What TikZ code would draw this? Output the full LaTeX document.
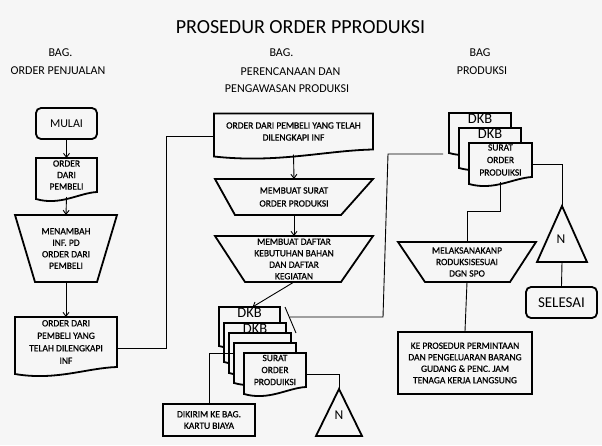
\documentclass[tikz,border=0pt]{standalone}
\usepackage{fontspec}
\setmainfont{Carlito}
\newfontfamily\semib[FakeBold=0.8]{Carlito}
\usetikzlibrary{calc,arrows.meta}
\definecolor{bg}{RGB}{246,246,246}
\newcommand{\docout}[2][]{%
  \draw[shp,#1] (#2.north west) -- (#2.north east) -- (#2.south east)
   .. controls ($(#2.south west)!0.7!(#2.south east)+(0pt,-1pt)$) and ($(#2.south west)!0.4!(#2.south east)+(0pt,-14pt)$) .. ([yshift=-7pt]#2.south west) -- cycle;}
\newcommand{\trapout}[3]{%
  \draw[shp] (#1.north west) -- (#1.north east) -- ([xshift=-#3]#1.south east) -- ([xshift=#2]#1.south west) -- cycle;}
\newcommand{\triout}[1]{%
  \draw[shp] (#1.north) -- (#1.south east) -- (#1.south west) -- cycle;}
\begin{document}
\begin{tikzpicture}[x=1pt,y=-1pt,
  shp/.style={draw=black, line width=1.8pt, line join=miter},
  frame/.style={draw=none, inner sep=0pt, outer sep=0pt},
  txt/.style={font=\semib\fontsize{9.5}{11.5}\selectfont, align=center, inner sep=0pt},
  hdr/.style={font=\fontsize{12}{14}\selectfont, inner sep=0pt},
  con/.style={draw=black, line width=0.9pt},
  arr/.style={con, -{Straight Barb[length=4pt,width=6pt]}},
  roundbox/.style={shp, rounded corners=5pt, inner sep=0pt},
  plainbox/.style={shp, inner sep=0pt, align=center, font=\semib\fontsize{9.5}{11.5}\selectfont},
  dkb/.style={font=\fontsize{14.5}{16}\selectfont, inner sep=0pt, anchor=north},
  ntext/.style={font=\fontsize{13.5}{15}\selectfont, inner sep=0pt}]
\fill[bg] (0,0) rectangle (602,445);
\useasboundingbox (0,0) rectangle (602,445);

% title and headers
\node[font=\fontsize{20}{24}\selectfont, inner sep=0pt] (title) at (300.5,27) {PROSEDUR ORDER PPRODUKSI};
\node[hdr] (h1a) at (60.5,53) {BAG.};
\node[hdr] (h1b) at (58,71) {ORDER PENJUALAN};
\node[hdr] (h2a) at (281.5,53) {BAG.};
\node[hdr] (h2b) at (290.5,72) {PERENCANAAN DAN};
\node[hdr] (h2c) at (287,89) {PENGAWASAN PRODUKSI};
\node[hdr] (h3a) at (480,53) {BAG};
\node[hdr] (h3b) at (482,71) {PRODUKSI};

% ---------- left column ----------
\node[roundbox, minimum width=61, minimum height=31, font=\fontsize{12}{14}\selectfont] (mulai) at (66.5,123.5) {MULAI};
\node[frame, txt, minimum width=61, minimum height=34] (ldoc1) at (66.5,175) {ORDER\\DARI\\PEMBELI};
\docout{ldoc1}
\node[frame, txt, minimum width=102, minimum height=67] (ltrap) at (66,248.5) {MENAMBAH\\INF. PD\\ORDER DARI\\PEMBELI};
\trapout{ltrap}{20pt}{20pt}
\node[frame, txt, font=\semib\fontsize{9.5}{12.5}\selectfont, minimum width=102, minimum height=50] (ldoc2) at (66,342) {ORDER DARI\\PEMBELI YANG\\TELAH DILENGKAPI\\INF};
\docout{ldoc2}

\draw[arr] (mulai.south) -- (ldoc1.north);
\draw[arr] ([yshift=-5pt]ldoc1.south) -- (ltrap.north);
\draw[arr] (ltrap.south) -- (ldoc2.north);

% ---------- middle column ----------
\node[frame, txt, font=\semib\fontsize{9.5}{12}\selectfont, minimum width=159, minimum height=36] (mdoc) at (293.5,131.5) {ORDER DARI PEMBELI YANG TELAH\\DILENGKAPI INF};
\docout{mdoc}
\node[frame, txt, font=\semib\fontsize{9.5}{13}\selectfont, minimum width=158, minimum height=36] (mtrap1) at (294,197) {MEMBUAT SURAT\\ORDER PRODUKSI};
\trapout{mtrap1}{20pt}{32pt}
\node[frame, txt, minimum width=158, minimum height=46] (mtrap2) at (294,259) {MEMBUAT DAFTAR\\KEBUTUHAN BAHAN\\DAN DAFTAR\\KEGIATAN};
\trapout{mtrap2}{30pt}{32pt}

\draw[arr] ([yshift=-5pt]mdoc.south) -- (mtrap1.north);
\draw[arr] (mtrap1.south) -- (mtrap2.north);

% middle stack
\node[frame, minimum width=61, minimum height=32] (mk1) at (249.5,323) {};
\docout[fill=bg]{mk1}
\node[dkb] (mk1t) at ([yshift=-1pt]mk1.north) {DKB};
\node[frame, minimum width=62, minimum height=32] (mk2) at (255,339) {};
\docout[fill=bg]{mk2}
\node[dkb] (mk2t) at ([yshift=-1pt]mk2.north) {DKB};
\node[frame, minimum width=62, minimum height=33] (mk3) at (260,349.5) {};
\docout[fill=bg]{mk3}
\node[frame, minimum width=62, minimum height=33] (mk4) at (265,359.5) {};
\docout[fill=bg]{mk4}
\node[frame, minimum width=62, minimum height=34] (mk5) at (275,370) {};
\docout[fill=bg]{mk5}
\node[txt, font=\semib\fontsize{9.5}{12}\selectfont] (mk5t) at (mk5.center) {SURAT\\ORDER\\PRODUIKSI};

\draw[arr] (mtrap2.south) -- ([xshift=3pt]mk1.north);

\node[plainbox, minimum width=92, minimum height=32] (kirim) at (209,420) {DIKIRIM KE BAG.\\KARTU BIAYA};
\draw[con] ([yshift=6pt]mk4.west) -| (kirim.north);

\node[frame, ntext, minimum width=46, minimum height=47] (ntri1) at (339,412.5) {};
\triout{ntri1}
\node[ntext] (ntri1t) at (339,415) {N};
\draw[con] ([yshift=-4pt]mk5.east) -| (ntri1.north);

% stray stroke and link to production
\coordinate (s1) at (285,307);
\coordinate (s2) at (296,333);
\draw[con] (s1) -- (s2);
\coordinate (p1) at (290,317);
\coordinate (p2) at (383,317);
\coordinate (p3) at (388,154);
\coordinate (p4) at (443,154);
\draw[con] (p1) -- (p2) -- (p3) -- (p4);

% ---------- right column ----------
\node[frame, minimum width=62, minimum height=33] (rk1) at (480,129.5) {};
\docout[fill=bg]{rk1}
\node[dkb] (rk1t) at ([yshift=-1pt]rk1.north) {DKB};
\node[frame, minimum width=62, minimum height=33] (rk2) at (490,144.5) {};
\docout[fill=bg]{rk2}
\node[dkb] (rk2t) at ([yshift=-1pt]rk2.north) {DKB};
\node[frame, minimum width=63, minimum height=34] (rk3) at (500.5,160) {};
\docout[fill=bg]{rk3}
\node[txt, font=\semib\fontsize{9.5}{12.5}\selectfont] (rk3t) at (rk3.center) {SURAT\\ORDER\\PRODUIKSI};

\node[frame, txt, minimum width=138, minimum height=40] (rtrap) at (467,262) {MELAKSANAKANP\\RODUKSISESUAI\\DGN SPO};
\trapout{rtrap}{27pt}{26pt}
\coordinate (r1) at (500.5,211);
\draw[con] ([yshift=-5pt]rk3.south) -- (r1) -| (rtrap.north);

\node[plainbox, minimum width=134, minimum height=62] (kebox) at (465,363) {KE PROSEDUR PERMINTAAN\\DAN PENGELUARAN BARANG\\GUDANG \& PENC. JAM\\TENAGA KERJA LANGSUNG};
\draw[con] (rtrap.south) -- (kebox.north);

\node[frame, minimum width=50, minimum height=56] (ntri2) at (562,234) {};
\triout{ntri2}
\node[ntext] (ntri2t) at (561,239) {N};
\draw[con] ([yshift=-4pt]rk3.east) -| (ntri2.north);

\node[roundbox, minimum width=71, minimum height=31, font=\fontsize{15}{17}\selectfont] (selesai) at (561.5,302.5) {SELESAI};
\draw[con] (ntri2.south) -- (selesai.north);

% link from left doc to middle doc
\draw[con] ([yshift=-6pt]ldoc2.east) -- ++(49,0) |- ([yshift=-5pt]mdoc.west);
\end{tikzpicture}
\end{document}
